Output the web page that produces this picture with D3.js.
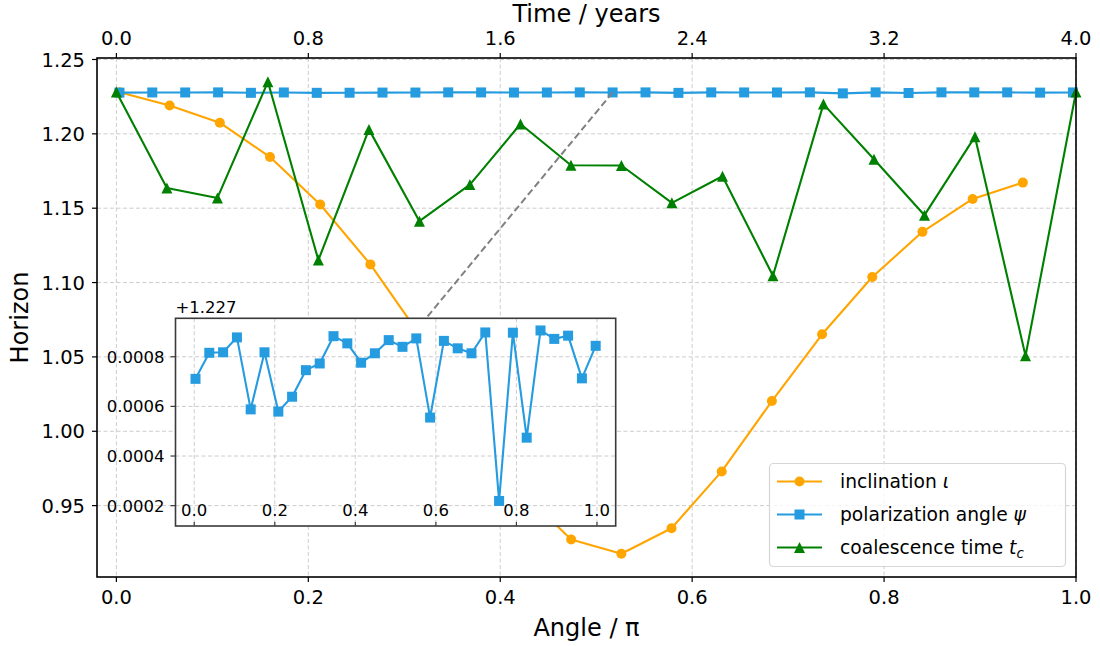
<!DOCTYPE html>
<html>
<head>
<meta charset="utf-8">
<script src="https://cdn.jsdelivr.net/npm/d3@7"></script>
<style>
  body { margin: 0; background: #fff; }
  svg { font-family: "DejaVu Sans", sans-serif; }
</style>
</head>
<body>
<svg id="chart" width="1100" height="646"></svg>
<script>
// sample positions (angle / pi)
var incX = [0.0032, 0.0555, 0.1078, 0.1601, 0.2124, 0.2647, 0.3170, 0.3693, 0.4216, 0.4739,
             0.5262, 0.5785, 0.6308, 0.6831, 0.7354, 0.7877, 0.8400, 0.8923, 0.9446];
var psiX = [0.0032, 0.0374, 0.0717, 0.1060, 0.1402, 0.1745, 0.2088, 0.2430, 0.2773, 0.3116,
            0.3458, 0.3801, 0.4143, 0.4486, 0.4829, 0.5171, 0.5514, 0.5857, 0.6199, 0.6542,
            0.6884, 0.7227, 0.7570, 0.7912, 0.8255, 0.8598, 0.8940, 0.9283, 0.9626, 0.9968];
var tcX = [0, 0.0526, 0.1053, 0.1579, 0.2105, 0.2632, 0.3158, 0.3684, 0.4211, 0.4737,
           0.5263, 0.5789, 0.6316, 0.6842, 0.7368, 0.7895, 0.8421, 0.8947, 0.9474, 1.0];

// horizon values
var incY = [1.2279, 1.2191, 1.2075, 1.1844, 1.1525, 1.1122, 1.0640, 1.0110, 0.9600, 0.9272,
            0.9176, 0.9348, 0.9730, 1.0203, 1.0652, 1.1037, 1.1341, 1.1562, 1.1672];
var psiBase = 1.227;
var psiOffset = [0.000711, 0.000816, 0.000818, 0.000878, 0.000588, 0.000818, 0.000579, 0.000639, 0.000746, 0.000773,
                 0.000883, 0.000854, 0.000776, 0.000814, 0.000867, 0.000840, 0.000874, 0.000555, 0.000864, 0.000834,
                 0.000814, 0.000898, 0.000219, 0.000897, 0.000474, 0.000906, 0.000872, 0.000885, 0.000713, 0.000844];
var tcY = [1.2281, 1.1636, 1.1569, 1.2350, 1.1151, 1.2030, 1.1413, 1.1659, 1.2066, 1.1789,
           1.1787, 1.1536, 1.1715, 1.1046, 1.2200, 1.1829, 1.1453, 1.1981, 1.0507, 1.2281];

var xTicks = [0, 0.2, 0.4, 0.6, 0.8, 1.0];
var yTicks = [0.95, 1.00, 1.05, 1.10, 1.15, 1.20, 1.25];
var topTicks = [0, 0.8, 1.6, 2.4, 3.2, 4.0];
var insetYTicks = [0.0002, 0.0004, 0.0006, 0.0008];
var linkIndex = 15; // psi point joined to the inset

var cOrange = "#ffa500", cBlue = "#259be0", cGreen = "#008000";
var svg = d3.select("#chart");

var L = 97, R = 1076, T = 58, B = 577;
var x = d3.scaleLinear().domain([-0.0202, 1.0]).range([L, R]);
var xTop = d3.scaleLinear().domain([-0.0808, 4.0]).range([L, R]);
var y = d3.scaleLinear().domain([0.902, 1.251]).range([B, T]);

// grid
var grid = svg.append("g").attr("stroke", "#cccccc").attr("stroke-width", 1).attr("stroke-dasharray", "4,2.5");
xTicks.forEach(function(t) {
    grid.append("line").attr("x1", x(t)).attr("x2", x(t)).attr("y1", T).attr("y2", B);
});
yTicks.forEach(function(t) {
    grid.append("line").attr("x1", L).attr("x2", R).attr("y1", y(t)).attr("y2", y(t));
});

function drawSeries(g, xs, ys, sx, sy, color, shape) {
    var pts = xs.map(function(v, i) { return [sx(v), sy(ys[i])]; });
    g.append("path").attr("d", d3.line()(pts)).attr("fill", "none")
        .attr("stroke", color).attr("stroke-width", 2.1).attr("stroke-linejoin", "round");
    pts.forEach(function(p) { marker(g, p[0], p[1], color, shape); });
}

function marker(g, cx, cy, color, shape) {
    if (shape === "o") {
        g.append("circle").attr("cx", cx).attr("cy", cy).attr("r", 5).attr("fill", color);
    } else if (shape === "s") {
        g.append("rect").attr("x", cx - 5).attr("y", cy - 5).attr("width", 10).attr("height", 10).attr("fill", color);
    } else {
        g.append("path").attr("d", "M" + cx + "," + (cy - 5.5) + "L" + (cx - 5.5) + "," + (cy + 5.5) + "L" + (cx + 5.5) + "," + (cy + 5.5) + "Z")
            .attr("fill", color);
    }
}

var plot = svg.append("g");
drawSeries(plot, incX, incY, x, y, cOrange, "o");
drawSeries(plot, psiX, psiOffset.map(function(d) { return psiBase + d; }), x, y, cBlue, "s");
drawSeries(plot, tcX, tcY, x, y, cGreen, "^");

// inset scales
var iL = 175.5, iR = 615.7, iT = 318.3, iB = 526;
var xi = d3.scaleLinear().domain([-0.0465, 1.0465]).range([iL, iR]);
var yi = d3.scaleLinear().domain([0.000118, 0.000955]).range([iB, iT]);

// connector from main to inset
svg.append("line")
    .attr("x1", x(psiX[linkIndex])).attr("y1", y(psiBase + psiOffset[linkIndex]))
    .attr("x2", xi(psiX[linkIndex])).attr("y2", yi(psiOffset[linkIndex]))
    .attr("stroke", "#808080").attr("stroke-width", 2).attr("stroke-dasharray", "7,3.5");

// main spines and axes
svg.append("rect").attr("x", L).attr("y", T).attr("width", R - L).attr("height", B - T)
    .attr("fill", "none").attr("stroke", "#000").attr("stroke-width", 1.6);

var ax = svg.append("g").attr("font-size", "19.5px").attr("fill", "#000");
xTicks.forEach(function(t) {
    ax.append("line").attr("x1", x(t)).attr("x2", x(t)).attr("y1", B).attr("y2", B + 5).attr("stroke", "#000").attr("stroke-width", 1.2);
    ax.append("text").attr("x", x(t)).attr("y", B + 27).attr("text-anchor", "middle").text(d3.format(".1f")(t));
});
topTicks.forEach(function(t) {
    ax.append("line").attr("x1", xTop(t)).attr("x2", xTop(t)).attr("y1", T).attr("y2", T - 5).attr("stroke", "#000").attr("stroke-width", 1.2);
    ax.append("text").attr("x", xTop(t)).attr("y", T - 13).attr("text-anchor", "middle").text(d3.format(".1f")(t));
});
yTicks.forEach(function(t) {
    ax.append("line").attr("x1", L).attr("x2", L - 5).attr("y1", y(t)).attr("y2", y(t)).attr("stroke", "#000").attr("stroke-width", 1.2);
    ax.append("text").attr("x", L - 12).attr("y", y(t)).attr("dy", "0.36em").attr("text-anchor", "end").text(d3.format(".2f")(t));
});

svg.append("text").attr("x", (L + R) / 2).attr("y", 636).attr("text-anchor", "middle").attr("font-size", "24px").text("Angle / π");
svg.append("text").attr("x", (L + R) / 2).attr("y", 22).attr("text-anchor", "middle").attr("font-size", "24px").text("Time / years");
svg.append("text").attr("transform", "translate(28," + ((T + B) / 2) + ") rotate(-90)")
    .attr("text-anchor", "middle").attr("font-size", "24px").text("Horizon");

// inset
var inset = svg.append("g");
inset.append("rect").attr("x", iL).attr("y", iT).attr("width", iR - iL).attr("height", iB - iT).attr("fill", "#fff");
var ig = inset.append("g").attr("stroke", "#cccccc").attr("stroke-width", 1).attr("stroke-dasharray", "4,2.5");
xTicks.forEach(function(t) {
    ig.append("line").attr("x1", xi(t)).attr("x2", xi(t)).attr("y1", iT).attr("y2", iB);
});
insetYTicks.forEach(function(t) {
    ig.append("line").attr("x1", iL).attr("x2", iR).attr("y1", yi(t)).attr("y2", yi(t));
});
drawSeries(inset, psiX, psiOffset, xi, yi, cBlue, "s");
inset.append("rect").attr("x", iL).attr("y", iT).attr("width", iR - iL).attr("height", iB - iT)
    .attr("fill", "none").attr("stroke", "#3a3a3a").attr("stroke-width", 1.6);

var ia = inset.append("g").attr("font-size", "16.5px").attr("fill", "#000");
xTicks.forEach(function(t) {
    ia.append("line").attr("x1", xi(t)).attr("x2", xi(t)).attr("y1", iB).attr("y2", iB - 4).attr("stroke", "#3a3a3a").attr("stroke-width", 1.2);
    ia.append("text").attr("x", xi(t)).attr("y", iB - 10).attr("text-anchor", "middle").text(d3.format(".1f")(t));
});
insetYTicks.forEach(function(t) {
    ia.append("line").attr("x1", iL).attr("x2", iL - 5).attr("y1", yi(t)).attr("y2", yi(t)).attr("stroke", "#3a3a3a").attr("stroke-width", 1.2);
    ia.append("text").attr("x", iL - 11).attr("y", yi(t)).attr("dy", "0.36em").attr("text-anchor", "end").text(d3.format(".4f")(t));
});
ia.append("text").attr("x", iL).attr("y", iT - 5).text("+" + psiBase);

// legend
var legendItems = [
    { color: cOrange, shape: "o", text: "inclination ", sym: "ι" },
    { color: cBlue, shape: "s", text: "polarization angle ", sym: "ψ" },
    { color: cGreen, shape: "^", text: "coalescence time ", sym: "t", sub: "c" }
];
var lg = svg.append("g");
lg.append("rect").attr("x", 769.5).attr("y", 463.5).attr("width", 296).attr("height", 103).attr("rx", 4)
    .attr("fill", "#fff").attr("fill-opacity", 0.8).attr("stroke", "#d6d6d6").attr("stroke-width", 1.2);
legendItems.forEach(function(d, i) {
    var ly = 481.5 + i * 33;
    lg.append("line").attr("x1", 777).attr("x2", 822).attr("y1", ly).attr("y2", ly).attr("stroke", d.color).attr("stroke-width", 2.1);
    marker(lg, 799.5, ly, d.color, d.shape);
    var t = lg.append("text").attr("x", 840).attr("y", ly).attr("dy", "0.36em").attr("font-size", "18.7px");
    t.append("tspan").text(d.text);
    t.append("tspan").attr("font-style", "italic").text(d.sym);
    if (d.sub) {
        t.append("tspan").attr("font-style", "italic").attr("font-size", "13.5px").attr("dy", "4").text(d.sub);
    }
});
</script>
</body>
</html>
